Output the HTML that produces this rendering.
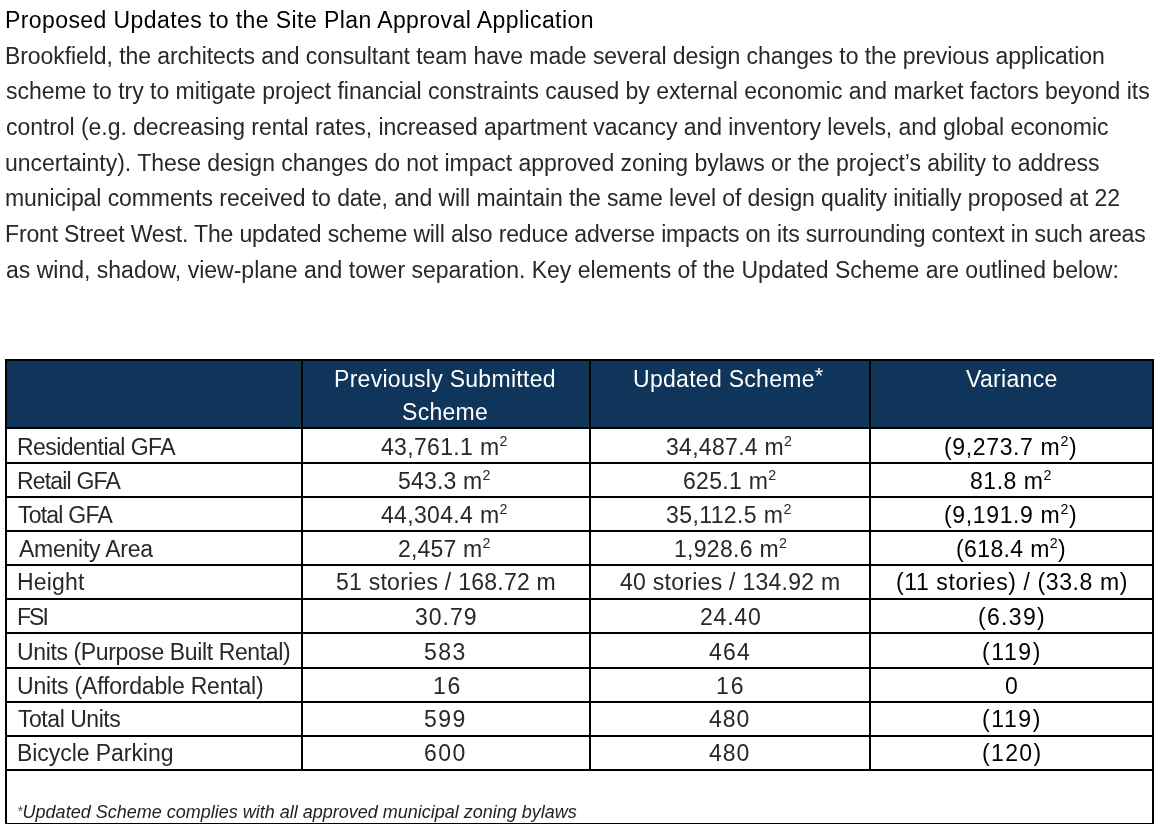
<!DOCTYPE html>
<html><head><meta charset="utf-8"><title>Proposed Updates</title>
<style>
html,body{margin:0;padding:0;background:#fff;}
body{width:1156px;height:824px;overflow:hidden;position:relative;font-family:"Liberation Sans",sans-serif;-webkit-font-smoothing:antialiased;}
.t{position:absolute;white-space:pre;will-change:transform;}
.b{position:absolute;background:#000;}
.hd{position:absolute;background:#10355a;}
sup{font-size:0.62em;vertical-align:0;position:relative;top:-0.63em;line-height:0;}
.fa{font-size:0.8em;position:relative;top:-0.15em;color:#555;}
.ast{font-size:0.95em;position:relative;top:-0.17em;}
</style></head><body>
<div class="hd" style="left:7px;top:361px;width:1145px;height:66px"></div>
<div class="b" style="left:5px;top:359px;width:1149px;height:2px"></div>
<div class="b" style="left:5px;top:427px;width:1149px;height:2px"></div>
<div class="b" style="left:5px;top:462px;width:1149px;height:2px"></div>
<div class="b" style="left:5px;top:496px;width:1149px;height:2px"></div>
<div class="b" style="left:5px;top:530px;width:1149px;height:2px"></div>
<div class="b" style="left:5px;top:564px;width:1149px;height:2px"></div>
<div class="b" style="left:5px;top:598px;width:1149px;height:2px"></div>
<div class="b" style="left:5px;top:632px;width:1149px;height:2px"></div>
<div class="b" style="left:5px;top:667px;width:1149px;height:2px"></div>
<div class="b" style="left:5px;top:701px;width:1149px;height:2px"></div>
<div class="b" style="left:5px;top:735px;width:1149px;height:2px"></div>
<div class="b" style="left:5px;top:769px;width:1149px;height:2px"></div>
<div class="b" style="left:5px;top:823px;width:1149px;height:2px"></div>
<div class="b" style="left:5px;top:359px;width:2px;height:466px"></div>
<div class="b" style="left:1152px;top:359px;width:2px;height:466px"></div>
<div class="b" style="left:301px;top:359px;width:2px;height:412px"></div>
<div class="b" style="left:589px;top:359px;width:2px;height:412px"></div>
<div class="b" style="left:869px;top:359px;width:2px;height:412px"></div>
<div class="t" id="p0" style="left:5.00px;top:9.00px;font-size:23px;line-height:23px;color:#000;letter-spacing:0.415px">Proposed Updates to the Site Plan Approval Application</div>
<div class="t" id="p1" style="left:5.00px;top:45.00px;font-size:23px;line-height:23px;color:#282828;letter-spacing:-0.071px">Brookfield, the architects and consultant team have made several design changes to the previous application</div>
<div class="t" id="p2" style="left:6.00px;top:80.00px;font-size:23px;line-height:23px;color:#282828;letter-spacing:-0.027px">scheme to try to mitigate project financial constraints caused by external economic and market factors beyond its</div>
<div class="t" id="p3" style="left:6.00px;top:116.00px;font-size:23px;line-height:23px;color:#282828;letter-spacing:-0.056px">control (e.g. decreasing rental rates, increased apartment vacancy and inventory levels, and global economic</div>
<div class="t" id="p4" style="left:5.00px;top:152.00px;font-size:23px;line-height:23px;color:#282828;letter-spacing:-0.028px">uncertainty). These design changes do not impact approved zoning bylaws or the project’s ability to address</div>
<div class="t" id="p5" style="left:5.00px;top:187.00px;font-size:23px;line-height:23px;color:#282828;letter-spacing:-0.090px">municipal comments received to date, and will maintain the same level of design quality initially proposed at 22</div>
<div class="t" id="p6" style="left:5.00px;top:223.00px;font-size:23px;line-height:23px;color:#282828;letter-spacing:-0.164px">Front Street West. The updated scheme will also reduce adverse impacts on its surrounding context in such areas</div>
<div class="t" id="p7" style="left:6.00px;top:258.60px;font-size:23px;line-height:23px;color:#282828;letter-spacing:0.005px">as wind, shadow, view-plane and tower separation. Key elements of the Updated Scheme are outlined below:</div>
<div class="t" id="h1" style="left:334.00px;top:368.00px;font-size:23px;line-height:23px;color:#fff;letter-spacing:0.289px">Previously Submitted</div>
<div class="t" id="h2" style="left:402.00px;top:401.00px;font-size:23px;line-height:23px;color:#fff;letter-spacing:0.300px">Scheme</div>
<div class="t" id="h3" style="left:633.00px;top:368.00px;font-size:23px;line-height:23px;color:#fff;letter-spacing:0.286px">Updated Scheme<span class="ast">*</span></div>
<div class="t" id="h4" style="left:966.00px;top:368.00px;font-size:23px;line-height:23px;color:#fff;letter-spacing:0.314px">Variance</div>
<div class="t" id="c1r0" style="left:16.60px;top:435.50px;font-size:23px;line-height:23px;color:#282828;letter-spacing:-0.543px">Residential GFA</div>
<div class="t" id="c2r0" style="left:381.40px;top:435.50px;font-size:23px;line-height:23px;color:#282828;letter-spacing:0.330px">43,761.1 m<sup>2</sup></div>
<div class="t" id="c3r0" style="left:666.00px;top:435.50px;font-size:23px;line-height:23px;color:#282828;letter-spacing:0.300px">34,487.4 m<sup>2</sup></div>
<div class="t" id="c4r0" style="left:944.00px;top:435.50px;font-size:23px;line-height:23px;color:#000;letter-spacing:0.645px">(9,273.7 m<sup>2</sup>)</div>
<div class="t" id="c1r1" style="left:16.60px;top:470.00px;font-size:23px;line-height:23px;color:#282828;letter-spacing:-0.822px">Retail GFA</div>
<div class="t" id="c2r1" style="left:398.40px;top:470.00px;font-size:23px;line-height:23px;color:#282828;letter-spacing:0.186px">543.3 m<sup>2</sup></div>
<div class="t" id="c3r1" style="left:682.60px;top:470.00px;font-size:23px;line-height:23px;color:#282828;letter-spacing:0.300px">625.1 m<sup>2</sup></div>
<div class="t" id="c4r1" style="left:970.20px;top:470.00px;font-size:23px;line-height:23px;color:#000;letter-spacing:0.533px">81.8 m<sup>2</sup></div>
<div class="t" id="c1r2" style="left:17.60px;top:503.70px;font-size:23px;line-height:23px;color:#282828;letter-spacing:-0.775px">Total GFA</div>
<div class="t" id="c2r2" style="left:381.40px;top:503.70px;font-size:23px;line-height:23px;color:#282828;letter-spacing:0.330px">44,304.4 m<sup>2</sup></div>
<div class="t" id="c3r2" style="left:666.00px;top:503.70px;font-size:23px;line-height:23px;color:#282828;letter-spacing:0.400px">35,112.5 m<sup>2</sup></div>
<div class="t" id="c4r2" style="left:944.00px;top:503.70px;font-size:23px;line-height:23px;color:#000;letter-spacing:0.645px">(9,191.9 m<sup>2</sup>)</div>
<div class="t" id="c1r3" style="left:18.60px;top:537.50px;font-size:23px;line-height:23px;color:#282828;letter-spacing:-0.255px">Amenity Area</div>
<div class="t" id="c2r3" style="left:398.40px;top:537.50px;font-size:23px;line-height:23px;color:#282828;letter-spacing:0.186px">2,457 m<sup>2</sup></div>
<div class="t" id="c3r3" style="left:673.60px;top:537.50px;font-size:23px;line-height:23px;color:#282828;letter-spacing:0.289px">1,928.6 m<sup>2</sup></div>
<div class="t" id="c4r3" style="left:956.00px;top:537.50px;font-size:23px;line-height:23px;color:#000;letter-spacing:0.378px">(618.4 m<sup>2</sup>)</div>
<div class="t" id="c1r4" style="left:16.60px;top:571.20px;font-size:23px;line-height:23px;color:#282828;letter-spacing:0.160px">Height</div>
<div class="t" id="c2r4" style="left:336.00px;top:571.20px;font-size:23px;line-height:23px;color:#282828;letter-spacing:0.250px">51 stories / 168.72 m</div>
<div class="t" id="c3r4" style="left:620.00px;top:571.20px;font-size:23px;line-height:23px;color:#282828;letter-spacing:0.270px">40 stories / 134.92 m</div>
<div class="t" id="c4r4" style="left:895.60px;top:571.20px;font-size:23px;line-height:23px;color:#000;letter-spacing:0.600px">(11 stories) / (33.8 m)</div>
<div class="t" id="c1r5" style="left:16.60px;top:605.70px;font-size:23px;line-height:23px;color:#282828;letter-spacing:-2.000px">FSI</div>
<div class="t" id="c2r5" style="left:415.20px;top:605.70px;font-size:23px;line-height:23px;color:#282828;letter-spacing:1.000px">30.79</div>
<div class="t" id="c3r5" style="left:699.60px;top:605.70px;font-size:23px;line-height:23px;color:#282828;letter-spacing:0.800px">24.40</div>
<div class="t" id="c4r5" style="left:978.20px;top:605.70px;font-size:23px;line-height:23px;color:#000;letter-spacing:1.320px">(6.39)</div>
<div class="t" id="c1r6" style="left:16.60px;top:640.80px;font-size:23px;line-height:23px;color:#282828;letter-spacing:-0.378px">Units (Purpose Built Rental)</div>
<div class="t" id="c2r6" style="left:424.20px;top:640.80px;font-size:23px;line-height:23px;color:#282828;letter-spacing:1.400px">583</div>
<div class="t" id="c3r6" style="left:709.20px;top:640.80px;font-size:23px;line-height:23px;color:#282828;letter-spacing:1.200px">464</div>
<div class="t" id="c4r6" style="left:982.40px;top:640.80px;font-size:23px;line-height:23px;color:#000;letter-spacing:1.600px">(119)</div>
<div class="t" id="c1r7" style="left:16.60px;top:674.50px;font-size:23px;line-height:23px;color:#282828;letter-spacing:-0.200px">Units (Affordable Rental)</div>
<div class="t" id="c2r7" style="left:432.60px;top:674.50px;font-size:23px;line-height:23px;color:#282828;letter-spacing:1.800px">16</div>
<div class="t" id="c3r7" style="left:716.20px;top:674.50px;font-size:23px;line-height:23px;color:#282828;letter-spacing:1.900px">16</div>
<div class="t" id="c4r7" style="left:1004.90px;top:674.50px;font-size:23px;line-height:23px;color:#000;letter-spacing:0.000px">0</div>
<div class="t" id="c1r8" style="left:17.60px;top:708.00px;font-size:23px;line-height:23px;color:#282828;letter-spacing:-0.460px">Total Units</div>
<div class="t" id="c2r8" style="left:424.20px;top:708.00px;font-size:23px;line-height:23px;color:#282828;letter-spacing:1.400px">599</div>
<div class="t" id="c3r8" style="left:709.20px;top:708.00px;font-size:23px;line-height:23px;color:#282828;letter-spacing:0.950px">480</div>
<div class="t" id="c4r8" style="left:982.40px;top:708.00px;font-size:23px;line-height:23px;color:#000;letter-spacing:1.600px">(119)</div>
<div class="t" id="c1r9" style="left:16.60px;top:741.70px;font-size:23px;line-height:23px;color:#282828;letter-spacing:-0.057px">Bicycle Parking</div>
<div class="t" id="c2r9" style="left:424.20px;top:741.70px;font-size:23px;line-height:23px;color:#282828;letter-spacing:1.400px">600</div>
<div class="t" id="c3r9" style="left:709.20px;top:741.70px;font-size:23px;line-height:23px;color:#282828;letter-spacing:0.950px">480</div>
<div class="t" id="c4r9" style="left:982.40px;top:741.70px;font-size:23px;line-height:23px;color:#000;letter-spacing:1.350px">(120)</div>
<div class="t" id="fn" style="left:16.60px;top:802.60px;font-size:18px;line-height:18px;color:#222;letter-spacing:-0.003px;font-style:italic"><span class="fa">*</span>Updated Scheme complies with all approved municipal zoning bylaws</div>
</body></html>
